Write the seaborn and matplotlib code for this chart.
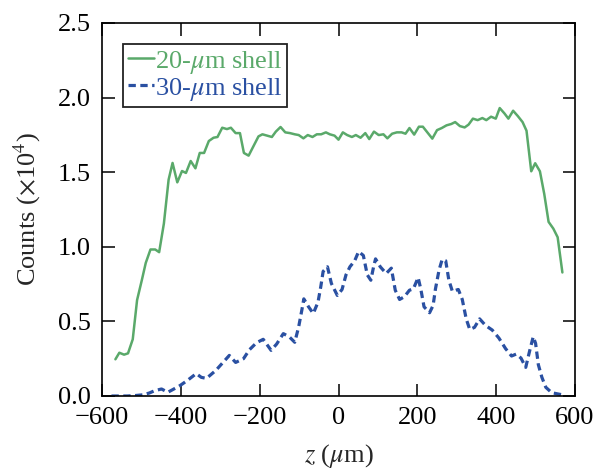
import numpy as np
import pandas as pd
import seaborn as sns
import matplotlib
matplotlib.use("Agg")
import matplotlib.pyplot as plt

# ---- data ----
z_green = [-566, -556, -544, -534, -522, -511, -499, -489, -477, -465, -455, -443, -431, -421,
           -409, -397, -387, -375, -363, -352, -341, -329, -317, -307, -295, -283, -273, -261,
           -250, -240, -228, -216, -203, -193, -181, -169, -159, -147, -135, -123, -111, -101,
           -89, -78, -66, -55, -44, -32, -22, -10, 0, 11, 22, 34, 44, 56, 68, 78, 90, 102, 114,
           124, 136, 148, 160, 170, 180, 192, 204, 214, 226, 238, 250, 262, 274, 286, 296, 308,
           320, 330, 341, 353, 365, 375, 387, 399, 409, 421, 431, 443, 455, 467, 477, 489, 499,
           511, 522, 533, 545, 556, 568]
counts_green = [0.246, 0.290, 0.277, 0.286, 0.38, 0.643, 0.776, 0.892, 0.982, 0.982, 0.964, 1.156, 1.45, 1.562,
                1.432, 1.508, 1.495, 1.575, 1.526, 1.629, 1.629, 1.709, 1.731, 1.736, 1.798, 1.789, 1.798, 1.762,
                1.762, 1.629, 1.611, 1.673, 1.74, 1.754, 1.745, 1.736, 1.772, 1.803, 1.767, 1.762, 1.754, 1.749,
                1.727, 1.749, 1.736, 1.754, 1.754, 1.767, 1.754, 1.745, 1.718, 1.767, 1.749, 1.736, 1.749, 1.731, 1.762, 1.722, 1.772, 1.749, 1.754,
                1.727, 1.758, 1.767, 1.767, 1.758, 1.796, 1.752, 1.805, 1.805, 1.765, 1.725, 1.782, 1.796, 1.814, 1.823, 1.836, 1.809,
                1.80, 1.819, 1.859, 1.849, 1.863, 1.849, 1.872, 1.859, 1.930, 1.894, 1.859, 1.912, 1.876, 1.836, 1.778, 1.506, 1.560,
                1.506, 1.354, 1.167, 1.122, 1.064, 0.828]

z_blue = [-576, -556, -536, -516, -496, -480, -467, -449, -433, -419, -402, -382, -361, -348, -335,
          -311, -292, -277, -261, -241, -226, -208, -191, -171, -157, -140, -125, -111, -101, -93,
          -88, -76, -64, -52, -45, -39, -28, -18, -3, 9, 19, 29, 41, 51, 63, 73, 82, 89, 94, 106,
          121, 134, 144, 155, 167, 180, 190, 202, 209, 217, 231, 240, 246, 255, 263, 272, 280, 289,
          304, 314, 324, 333, 345, 358, 373, 390, 407, 424, 439, 451, 463, 475, 485, 494, 500, 507,
          516, 526, 541, 558, 566]
counts_blue = [0.0, 0.0, 0.0, 0.003, 0.008, 0.02, 0.035, 0.047, 0.025, 0.045, 0.07, 0.107, 0.15, 0.125, 0.118,
               0.172, 0.228, 0.272, 0.225, 0.25, 0.31, 0.357, 0.38, 0.306, 0.348, 0.418, 0.397, 0.36, 0.464, 0.576,
               0.651, 0.598, 0.553, 0.629, 0.732, 0.835, 0.866, 0.754, 0.674, 0.714, 0.812, 0.866, 0.906, 0.968, 0.942, 0.812, 0.776, 0.866, 0.919, 0.866,
               0.821, 0.857, 0.709, 0.647, 0.665, 0.709, 0.718, 0.794, 0.714, 0.598, 0.558, 0.607, 0.718, 0.843, 0.915, 0.906, 0.776, 0.701,
               0.714, 0.647, 0.517, 0.446, 0.46, 0.517, 0.473, 0.442, 0.388, 0.317, 0.268, 0.281, 0.254, 0.192, 0.303, 0.397, 0.353, 0.21,
               0.125, 0.058, 0.022, 0.013, 0.009]

labels = ["20-$\\mu$m shell", "30-$\\mu$m shell"]
x_ticks = [-600, -400, -200, 0, 200, 400, 600]
y_ticks = [0.0, 0.5, 1.0, 1.5, 2.0, 2.5]

green = "#5aa96a"
blue = "#2a50a2"

sns.set_theme(style="ticks")
plt.rcParams["font.family"] = ["Liberation Serif", "DejaVu Serif"]
plt.rcParams["mathtext.fontset"] = "stix"
plt.rcParams["xtick.direction"] = "in"
plt.rcParams["ytick.direction"] = "in"

df_g = pd.DataFrame({"z": z_green, "c": counts_green})
df_b = pd.DataFrame({"z": z_blue, "c": counts_blue})

fig = plt.figure(figsize=(5.97, 4.72), dpi=100)
ax = fig.add_axes([102 / 597, 1 - 396 / 472, 473 / 597, 373 / 472])

sns.lineplot(data=df_g, x="z", y="c", ax=ax, color=green, lw=1.8, sort=False,
             estimator=None, label=labels[0])
sns.lineplot(data=df_b, x="z", y="c", ax=ax, color=blue, lw=2.3, sort=False,
             estimator=None, label=labels[1], linestyle=(0, (2.3, 1.4)))

ax.set_xlim(-600, 600)
ax.set_ylim(0, 2.5)
ax.set_xticks(x_ticks)
ax.set_yticks(y_ticks)
ax.set_yticklabels([f"{v:.1f}" for v in y_ticks])
ax.tick_params(axis="both", which="major", labelsize=19, length=9, width=1.1,
               direction="in", top=True, right=True, colors="black")
ax.tick_params(axis="x", pad=8)
ax.tick_params(axis="y", pad=8)
for s in ax.spines.values():
    s.set_color("black")
    s.set_linewidth(1.2)

ax.set_xlabel("$z$ ($\\mu$m)", fontsize=19, labelpad=9)
ax.set_ylabel("Counts ($\\times$10$^4$)", fontsize=19, labelpad=11)

leg = ax.legend(loc="upper left", bbox_to_anchor=(0.044, 0.944), borderaxespad=0,
                fontsize=19, frameon=True, fancybox=False, edgecolor="#222222",
                framealpha=1, handlelength=1.0, handletextpad=0.05,
                labelspacing=0.0, borderpad=0.18, labelcolor="linecolor")
leg.get_frame().set_linewidth(1.3)

fig.savefig("out.png", dpi=100)
